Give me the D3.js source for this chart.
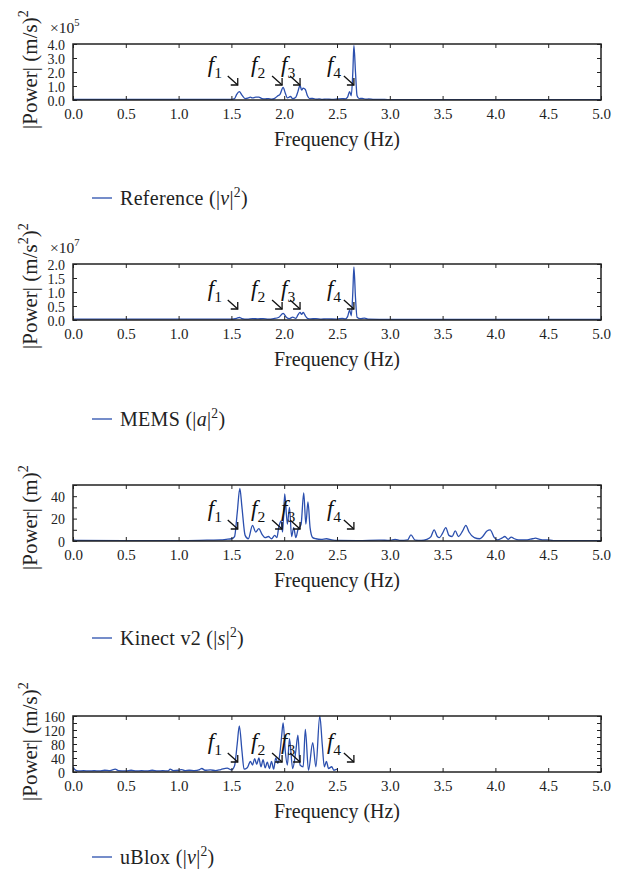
<!DOCTYPE html>
<html>
<head>
<meta charset="utf-8">
<script src="https://cdn.jsdelivr.net/npm/d3@7"></script>
<style>
  body { margin: 0; background: #fff; }
  svg, svg text { font-family: "Liberation Serif", "Times New Roman", "DejaVu Serif", serif; }
</style>
</head>
<body>
<div id="chart"></div>
<script>
// frequency axis
var freqTicks = [0, 0.5, 1, 1.5, 2, 2.5, 3, 3.5, 4, 4.5, 5];

// reference |v|^2, in units of 1e5 (m/s)^2
var refSeries = [
  [0, 0.05], [1.5, 0.05], [1.53, 0.1], [1.55, 0.4], [1.575, 0.6], [1.6, 0.35], [1.63, 0.1],
  [1.66, 0.15], [1.68, 0.2], [1.7, 0.15], [1.73, 0.2], [1.76, 0.2], [1.79, 0.1], [1.82, 0.08],
  [1.85, 0.1], [1.88, 0.06], [1.91, 0.12], [1.94, 0.3], [1.96, 0.4], [1.99, 0.9], [2.01, 0.5],
  [2.03, 0.15], [2.06, 0.25], [2.08, 0.1], [2.11, 0.2], [2.13, 0.6], [2.15, 1.05], [2.165, 0.7],
  [2.18, 0.85], [2.2, 0.75], [2.22, 0.3], [2.24, 0.1], [2.27, 0.12], [2.3, 0.06], [2.33, 0.08],
  [2.36, 0.05], [2.4, 0.06], [2.45, 0.05], [2.5, 0.07], [2.55, 0.1], [2.58, 0.08], [2.6, 0.2],
  [2.62, 0.6], [2.635, 0.3], [2.65, 2.0], [2.66, 3.9], [2.675, 2.0], [2.69, 0.3], [2.71, 0.1],
  [2.74, 0.12], [2.77, 0.06], [2.8, 0.08], [2.85, 0.04], [2.9, 0.05], [3.0, 0.02], [5, 0.02]
];

// MEMS |a|^2, in units of 1e7 (m/s^2)^2
var memsSeries = [
  [0, 0.03], [1.5, 0.03], [1.55, 0.06], [1.575, 0.09], [1.6, 0.05], [1.65, 0.03], [1.7, 0.05],
  [1.75, 0.04], [1.8, 0.05], [1.85, 0.03], [1.9, 0.05], [1.95, 0.1], [1.99, 0.24], [2.02, 0.1],
  [2.05, 0.05], [2.08, 0.1], [2.11, 0.06], [2.13, 0.18], [2.15, 0.27], [2.165, 0.2], [2.18, 0.27],
  [2.2, 0.15], [2.22, 0.06], [2.25, 0.04], [2.3, 0.05], [2.35, 0.03], [2.4, 0.04], [2.5, 0.03],
  [2.55, 0.06], [2.58, 0.04], [2.6, 0.12], [2.62, 0.35], [2.635, 0.15], [2.65, 1.0], [2.66, 1.9],
  [2.675, 0.8], [2.69, 0.1], [2.72, 0.05], [2.76, 0.07], [2.8, 0.03], [3.0, 0.02], [5, 0.02]
];

// Kinect v2 |s|^2, m^2
var kinectSeries = [
  [0, 1], [0.05, 0.5], [0.5, 0.4], [1.0, 0.4], [1.2, 0.6], [1.3, 0.8], [1.4, 1], [1.45, 1.5],
  [1.5, 2], [1.53, 4], [1.555, 25], [1.58, 47], [1.6, 30], [1.63, 5], [1.66, 2], [1.7, 14],
  [1.73, 8], [1.76, 11], [1.79, 6], [1.82, 3], [1.85, 4], [1.88, 2], [1.91, 5], [1.93, 3],
  [1.95, 13], [1.97, 18], [1.985, 8], [2.005, 42], [2.03, 15], [2.05, 30], [2.07, 4], [2.09, 12],
  [2.11, 3], [2.13, 10], [2.16, 15], [2.185, 43], [2.205, 15], [2.225, 35], [2.245, 12], [2.27, 3],
  [2.3, 2], [2.35, 1.5], [2.4, 2], [2.45, 1], [2.5, 0.5], [2.7, 0.4], [2.9, 0.8], [3.0, 0.5],
  [3.05, 1.5], [3.1, 0.5], [3.17, 1], [3.2, 5.5], [3.24, 0.8], [3.3, 0.5], [3.35, 1.5], [3.39, 4],
  [3.42, 10], [3.45, 4], [3.47, 3], [3.5, 7], [3.53, 12], [3.56, 5], [3.59, 4], [3.62, 9],
  [3.65, 4], [3.69, 9], [3.72, 14], [3.75, 8], [3.8, 3], [3.85, 2], [3.88, 4], [3.92, 9],
  [3.95, 10], [3.99, 3], [4.02, 1], [4.06, 2.5], [4.09, 4], [4.12, 1.5], [4.15, 3.5], [4.18, 2],
  [4.22, 1], [4.3, 1], [4.35, 2], [4.38, 2.5], [4.42, 1.5], [4.46, 1], [4.49, 1], [4.55, 0.4],
  [5, 0.4]
];

// uBlox |v|^2, (m/s)^2 -- data stops at 2.5 Hz
var ubloxSeries = [
  [0, 15], [0.02, 6], [0.05, 3], [0.1, 4], [0.15, 3], [0.2, 4], [0.25, 3], [0.3, 5], [0.35, 4],
  [0.4, 8], [0.43, 4], [0.5, 3], [0.55, 5], [0.6, 3], [0.65, 4], [0.7, 3], [0.75, 5], [0.8, 3],
  [0.85, 4], [0.9, 3], [0.92, 8], [0.95, 4], [1.0, 5], [1.03, 7], [1.06, 4], [1.1, 5], [1.15, 4],
  [1.2, 7], [1.22, 10], [1.25, 5], [1.3, 6], [1.35, 4], [1.4, 7], [1.46, 11], [1.5, 6], [1.53, 18],
  [1.555, 80], [1.575, 132], [1.6, 60], [1.62, 8], [1.65, 12], [1.68, 30], [1.7, 20], [1.72, 38],
  [1.74, 22], [1.76, 40], [1.78, 15], [1.8, 35], [1.82, 12], [1.84, 28], [1.86, 10], [1.88, 30],
  [1.9, 8], [1.92, 40], [1.94, 25], [1.96, 55], [1.975, 100], [1.99, 140], [2.01, 60], [2.03, 20],
  [2.05, 95], [2.08, 10], [2.11, 60], [2.13, 105], [2.15, 20], [2.18, 15], [2.2, 122], [2.23, 5],
  [2.27, 84], [2.3, 15], [2.337, 160], [2.36, 80], [2.38, 15], [2.4, 30], [2.42, 10], [2.45, 15],
  [2.47, 5], [2.5, 8]
];

var refYTicks = [0, 1, 2, 3, 4];
var memsYTicks = [0, 0.5, 1, 1.5, 2];
var kinectYTicks = [0, 20, 40];
var ubloxYTicks = [0, 40, 80, 120, 160];

// marked frequencies f1..f4
var peakFreqs = [1.56, 1.98, 2.15, 2.66];
var peakNames = ["1", "2", "3", "4"];

var width = 628, height = 885;
var xLeft = 73, xRight = 601, plotH = 56;
var lineColor = "#2b4fae";
var serif = "'Liberation Serif', 'Times New Roman', 'DejaVu Serif', serif";

var svg = d3.select("#chart").append("svg")
  .attr("width", width)
  .attr("height", height)
  .attr("font-family", serif);

var x = d3.scaleLinear().domain([0, 5]).range([xLeft, xRight]);

// text pieces: {t, it, sup, sub}
function richText(sel, parts, size) {
  var shift = 0;
  parts.forEach(p => {
    var ts = sel.append("tspan").text(p.t);
    var target = p.sup ? -size * 0.42 : (p.sub ? size * 0.25 : 0);
    ts.attr("dy", target - shift);
    shift = target;
    if (p.it) ts.attr("font-style", "italic");
    if (p.sup || p.sub) ts.attr("font-size", size * 0.68);
  });
}

var panels = [
  { top: 44, data: refSeries, max: 4, ticks: refYTicks, minor: 1, fmt: d3.format(".1f"),
    exp: "5", arrowOff: 15, legendY: 198,
    ylab: [{t: "|Power| (m/s)"}, {t: "2", sup: true}],
    legend: [{t: "Reference (|"}, {t: "v", it: true}, {t: "|"}, {t: "2", sup: true}, {t: ")"}] },
  { top: 264, data: memsSeries, max: 2, ticks: memsYTicks, minor: 0.5, fmt: d3.format(".1f"),
    exp: "7", arrowOff: 11, legendY: 419,
    ylab: [{t: "|Power| (m/s"}, {t: "2", sup: true}, {t: ")"}, {t: "2", sup: true}],
    legend: [{t: "MEMS (|"}, {t: "a", it: true}, {t: "|"}, {t: "2", sup: true}, {t: ")"}] },
  { top: 485, data: kinectSeries, max: 50, ticks: kinectYTicks, minor: 10, fmt: d3.format("d"),
    exp: null, arrowOff: 12, legendY: 638,
    ylab: [{t: "|Power| (m)"}, {t: "2", sup: true}],
    legend: [{t: "Kinect v2 (|"}, {t: "s", it: true}, {t: "|"}, {t: "2", sup: true}, {t: ")"}] },
  { top: 716, data: ubloxSeries, max: 160, ticks: ubloxYTicks, minor: 20, fmt: d3.format("d"),
    exp: null, arrowOff: 10, legendY: 857,
    ylab: [{t: "|Power| (m/s)"}, {t: "2", sup: true}],
    legend: [{t: "uBlox (|"}, {t: "v", it: true}, {t: "|"}, {t: "2", sup: true}, {t: ")"}] }
];

// label offsets from arrow tip (f3 sits closer because of crowding)
var labelDx = [-30, -31, -19, -27];

panels.forEach(p => {
  var bottom = p.top + plotH;
  var y = d3.scaleLinear().domain([0, p.max]).range([bottom, p.top]);
  var g = svg.append("g");

  // data line, clipped to the frame
  var clipId = "clip" + p.top;
  svg.append("clipPath").attr("id", clipId)
    .append("rect").attr("x", xLeft).attr("y", p.top - 2)
    .attr("width", xRight - xLeft).attr("height", plotH + 2);

  var line = d3.line().x(d => x(d[0])).y(d => y(d[1])).curve(d3.curveMonotoneX);
  g.append("path")
    .datum(p.data)
    .attr("clip-path", "url(#" + clipId + ")")
    .attr("d", line)
    .attr("fill", "none")
    .attr("stroke", lineColor)
    .attr("stroke-width", 1.3);

  // axes
  var minorTicks = d3.range(0, p.max + p.minor / 2, p.minor);
  g.append("g").attr("transform", "translate(0," + bottom + ")")
    .call(d3.axisBottom(x).tickValues(freqTicks).tickSize(-4).tickPadding(8)
      .tickFormat(d3.format(".1f")));
  g.append("g").attr("transform", "translate(0," + p.top + ")")
    .call(d3.axisTop(x).tickValues(freqTicks).tickSize(-4).tickFormat(""));
  g.append("g").attr("transform", "translate(" + xLeft + ",0)")
    .call(d3.axisLeft(y).tickValues(minorTicks).tickSize(-4).tickFormat(""));
  g.append("g").attr("class", "ylab").attr("transform", "translate(" + xLeft + ",0)")
    .call(d3.axisLeft(y).tickValues(p.ticks).tickSize(0).tickPadding(8).tickFormat(p.fmt));
  g.append("g").attr("transform", "translate(" + xRight + ",0)")
    .call(d3.axisRight(y).tickValues(minorTicks).tickSize(-4).tickFormat(""));

  g.selectAll(".domain").remove();
  g.selectAll("g").attr("font-family", serif);
  g.selectAll(".tick line").attr("stroke", "#222").attr("stroke-width", 1);
  g.selectAll(".tick text").attr("font-size", 15).attr("fill", "#222");
  g.selectAll(".ylab .tick text").attr("font-size", 14).attr("dy", "0.36em");

  g.append("rect")
    .attr("x", xLeft).attr("y", p.top)
    .attr("width", xRight - xLeft).attr("height", plotH)
    .attr("fill", "none").attr("stroke", "#222").attr("stroke-width", 1.5);

  // exponent
  if (p.exp) {
    var ex = g.append("text").attr("x", 50).attr("y", p.top - 11)
      .attr("font-size", 15.5).attr("fill", "#222");
    richText(ex, [{t: "\u00d710"}, {t: p.exp, sup: true}], 15.5);
  }

  // y label
  var yt = g.append("text")
    .attr("transform", "translate(37," + (bottom + 29) + ") rotate(-90)")
    .attr("font-size", 21).attr("fill", "#222");
  richText(yt, p.ylab, 21);

  // x label
  g.append("text").attr("x", (xLeft + xRight) / 2).attr("y", bottom + 46)
    .attr("text-anchor", "middle").attr("font-size", 20).attr("fill", "#222")
    .text("Frequency (Hz)");

  // f annotations
  peakFreqs.forEach((f, i) => {
    var tx = x(f), ty = bottom - p.arrowOff;
    g.append("line").attr("x1", tx - 10).attr("y1", ty - 9).attr("x2", tx).attr("y2", ty)
      .attr("stroke", "#111").attr("stroke-width", 1.3);
    g.append("path")
      .attr("d", "M" + (tx - 7) + "," + ty + "L" + tx + "," + ty + "L" + tx + "," + (ty - 7))
      .attr("fill", "none").attr("stroke", "#111").attr("stroke-width", 1.3);
    var ft = g.append("text").attr("x", tx + labelDx[i]).attr("y", ty - 13)
      .attr("font-size", 23).attr("fill", "#111");
    richText(ft, [{t: "f", it: true}, {t: peakNames[i], sub: true}], 23);
  });

  // legend
  svg.append("line").attr("x1", 92).attr("x2", 112)
    .attr("y1", p.legendY).attr("y2", p.legendY)
    .attr("stroke", lineColor).attr("stroke-width", 1.3);
  var lt = svg.append("text").attr("x", 120).attr("y", p.legendY + 7)
    .attr("font-size", 20).attr("letter-spacing", 0.3).attr("fill", "#222");
  richText(lt, p.legend, 20);
});
</script>
</body>
</html>
